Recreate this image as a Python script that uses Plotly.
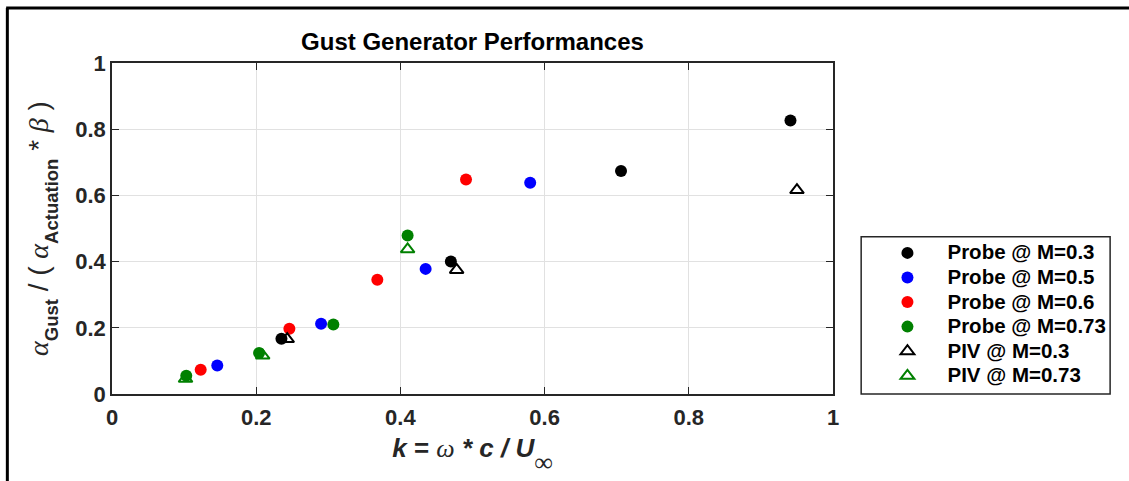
import plotly.graph_objects as go

# ---- data ----
probe_m03_k = [0.235, 0.470, 0.706, 0.941]
probe_m03_r = [0.167, 0.400, 0.674, 0.826]
probe_m05_k = [0.146, 0.290, 0.435, 0.580]
probe_m05_r = [0.086, 0.212, 0.378, 0.638]
probe_m06_k = [0.123, 0.246, 0.368, 0.491]
probe_m06_r = [0.073, 0.197, 0.345, 0.648]
probe_m073_k = [0.103, 0.204, 0.307, 0.410]
probe_m073_r = [0.055, 0.124, 0.210, 0.479]
piv_m03_k = [0.243, 0.478, 0.950]
piv_m03_r = [0.166, 0.375, 0.616]
piv_m073_k = [0.102, 0.209, 0.410]
piv_m073_r = [0.046, 0.116, 0.437]

names = ["Probe @ M=0.3", "Probe @ M=0.5", "Probe @ M=0.6", "Probe @ M=0.73",
         "PIV @ M=0.3", "PIV @ M=0.73"]
tick_vals = [0, 0.2, 0.4, 0.6, 0.8, 1]
tick_text = ["0", "0.2", "0.4", "0.6", "0.8", "1"]

FONT = "Liberation Sans, Arial, Helvetica, sans-serif"
SERIF = "Liberation Serif, DejaVu Serif, serif"
AXC = "#262626"

# plot-area geometry in pixels
L, R, T, B = 111.5, 833.5, 62.5, 394.3
W, H = R - L, B - T


def px(xp):
    return (xp - L) / W


def py(yp):
    return (B - yp) / H


def leg(name):
    # legend row height follows the legend font (16.6px); the text itself is drawn larger
    return f"<span style='font-size:20.5px'>{name}</span>"


fig = go.Figure()
circ = [(probe_m03_k, probe_m03_r, "#000000"), (probe_m05_k, probe_m05_r, "#0000FF"),
        (probe_m06_k, probe_m06_r, "#FF0000"), (probe_m073_k, probe_m073_r, "#008000")]
for (xs, ys, c), n in zip(circ, names[:4]):
    fig.add_trace(go.Scatter(x=xs, y=ys, mode="markers", name=leg(n),
                             marker=dict(symbol="circle", size=12, color=c, line=dict(width=0))))
tri = [(piv_m03_k, piv_m03_r, "#000000"), (piv_m073_k, piv_m073_r, "#008000")]
for (xs, ys, c), n in zip(tri, names[4:]):
    fig.add_trace(go.Scatter(x=xs, y=ys, mode="markers", name=leg(n),
                             marker=dict(symbol="triangle-up-open", size=12, color=c,
                                         line=dict(width=2, color=c))))

ALPHA = f"<span style='font-family:{SERIF}'><i>α</i></span>"
BETA = f"<span style='font-family:{SERIF}'><i>β</i></span>"


def ysub(t):
    return (f"<span style='font-size:44px'><sub><span style='font-size:18.5px'>"
            f"<b>{t}</b></span></sub></span>")


ytitle = f"{ALPHA}{ysub('Gust')} / ( {ALPHA}{ysub('Actuation')} * {BETA} )"
xtitle = (f"<b><i>k</i> = </b><span style='font-family:{SERIF}'><i>ω</i></span>"
          f"<b><i> * c / U</i></b><span style='font-size:64px'><sub>"
          f"<span style='font-size:26px;font-family:{SERIF}'>∞</span></sub></span>")

axis_common = dict(range=[0, 1], tickvals=tick_vals, ticktext=tick_text,
                   showline=True, linecolor=AXC, linewidth=1.5, mirror="ticks",
                   ticks="inside", ticklen=7, tickwidth=1, tickcolor=AXC,
                   showgrid=True, gridcolor="#e1e1e1", gridwidth=1, zeroline=False,
                   tickfont=dict(family=FONT, size=22, color=AXC, weight="bold"))

fig.update_layout(
    width=1129, height=481,
    margin=dict(l=L, r=1129 - R, t=T, b=481 - B, pad=0),
    paper_bgcolor="white", plot_bgcolor="white",
    title=dict(text="<b>Gust Generator Performances</b>", x=0.5 * (L + R) / 1129,
               xanchor="center", y=1 - 42 / 481, yanchor="middle",
               font=dict(family=FONT, size=24, color="black")),
    xaxis=dict(**axis_common, ticklabelstandoff=3,
               title=dict(text=xtitle, standoff=10,
                          font=dict(family=FONT, size=26, color=AXC))),
    yaxis=dict(**axis_common,
               title=dict(text=ytitle, standoff=18,
                          font=dict(family=FONT, size=28, color=AXC))),
    legend=dict(x=px(868), y=py(314.7), xanchor="left", yanchor="middle",
                bgcolor="rgba(0,0,0,0)", borderwidth=0,
                font=dict(family=FONT, size=16.6, color="black", weight="bold"),
                itemwidth=70),
    showlegend=True,
)

# legend frame
fig.add_shape(type="rect", xref="paper", yref="paper",
              x0=px(861.7), x1=px(1111), y0=py(394.3), y1=py(236.7),
              line=dict(color=AXC, width=1.5), fillcolor="rgba(0,0,0,0)", layer="above")

# outer frame lines (left and top) of the figure
fig.add_shape(type="line", xref="paper", yref="paper",
              x0=px(6.7), x1=px(6.7), y0=py(7.3), y1=py(490),
              line=dict(color="black", width=3), layer="above")
fig.add_shape(type="line", xref="paper", yref="paper",
              x0=px(5.5), x1=px(1140), y0=py(7.3), y1=py(7.3),
              line=dict(color="black", width=3), layer="above")

fig.write_html("out.html")
